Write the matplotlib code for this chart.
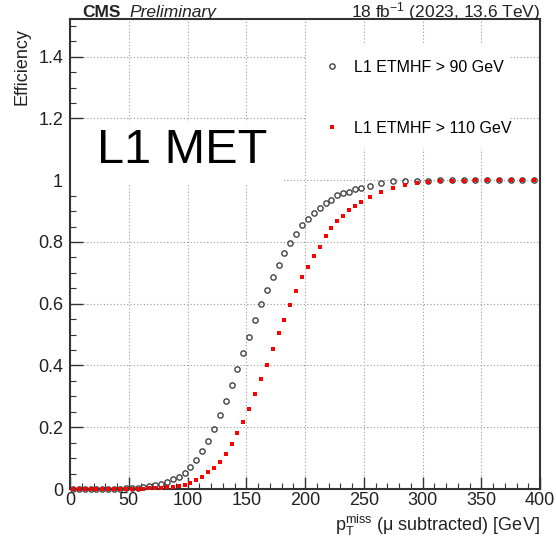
import numpy as np
import matplotlib.pyplot as plt
from matplotlib.patches import Rectangle
from matplotlib.ticker import MultipleLocator, FormatStrFormatter

plt.rcParams['font.family'] = ['Liberation Sans', 'DejaVu Sans']
plt.rcParams['mathtext.fontset'] = 'custom'
plt.rcParams['mathtext.rm'] = 'Liberation Sans'
plt.rcParams['mathtext.it'] = 'Liberation Sans:italic'
plt.rcParams['mathtext.bf'] = 'Liberation Sans:bold'

# bin centres (GeV): 5 GeV bins up to 250, then 10 GeV bins
met_bins = [2.5, 7.5, 12.5, 17.5, 22.5, 27.5, 32.5, 37.5, 42.5, 47.5,
            52.5, 57.5, 62.5, 67.5, 72.5, 77.5, 82.5, 87.5, 92.5, 97.5,
            102.5, 107.5, 112.5, 117.5, 122.5, 127.5, 132.5, 137.5, 142.5, 147.5,
            152.5, 157.5, 162.5, 167.5, 172.5, 177.5, 182.5, 187.5, 192.5, 197.5,
            202.5, 207.5, 212.5, 217.5, 222.5, 227.5, 232.5, 237.5, 242.5, 247.5,
            255, 265, 275, 285, 295, 305, 315, 325, 335, 345,
            355, 365, 375, 385, 395]

# L1 ETMHF > 90 GeV
eff_90 = [0.0, 0.0, 0.0, 0.0, 0.0, 0.0, 0.0003, 0.0005, 0.001, 0.002,
          0.003, 0.004, 0.006, 0.009, 0.012, 0.016, 0.022, 0.031, 0.040, 0.052,
          0.071, 0.094, 0.123, 0.156, 0.195, 0.240, 0.286, 0.337, 0.390, 0.442,
          0.493, 0.548, 0.598, 0.644, 0.688, 0.726, 0.763, 0.797, 0.827, 0.854,
          0.873, 0.894, 0.909, 0.926, 0.937, 0.951, 0.959, 0.962, 0.971, 0.976,
          0.981, 0.992, 0.997, 0.998, 0.999, 0.999, 1.0, 1.0, 1.0, 1.0,
          1.0, 1.0, 1.0, 1.0, 1.0]

# L1 ETMHF > 110 GeV
eff_110 = [0.0, 0.0, 0.0, 0.0, 0.0, 0.0, 0.0, 0.0, 0.0, 0.0002,
           0.0005, 0.001, 0.0015, 0.002, 0.003, 0.004, 0.005, 0.007, 0.010, 0.014,
           0.021, 0.029, 0.040, 0.054, 0.069, 0.089, 0.113, 0.145, 0.180, 0.217,
           0.258, 0.308, 0.355, 0.401, 0.453, 0.505, 0.546, 0.595, 0.641, 0.685,
           0.718, 0.755, 0.783, 0.819, 0.846, 0.868, 0.883, 0.902, 0.918, 0.931,
           0.947, 0.962, 0.975, 0.984, 0.990, 0.994, 0.996, 0.998, 0.999, 1.0,
           1.0, 1.0, 1.0, 1.0, 1.0]

W, H = 556, 546
fig = plt.figure(figsize=(W / 100, H / 100), dpi=100)
ax = fig.add_axes([70 / W, 1 - 489 / H, 470 / W, 470 / H])

ax.set_xlim(0, 400)
ax.set_ylim(0, 1.522)

ax.set_axisbelow(True)
ax.grid(True, which='major', ls=(0, (1, 2)), color='#999999', lw=0.8)

# white boxes behind the label and legend (hide the grid)
ax.add_patch(Rectangle((0, 0.99), 180, 0.2, facecolor='white', edgecolor='none', zorder=1))
ax.add_patch(Rectangle((202, 1.10), 172, 0.34, facecolor='white', edgecolor='none', zorder=1))

ax.plot(met_bins, eff_90, 'o', mfc='none', mec='#444444', ms=3.8, mew=1.0,
        label='L1 ETMHF > 90 GeV', zorder=3, clip_on=False)
ax.plot(met_bins, eff_110, 's', color='red', ms=3.4, mew=0,
        label='L1 ETMHF > 110 GeV', zorder=3, clip_on=False)

ax.text(23, 1.057, 'L1 MET', fontsize=35, ha='left', va='baseline', zorder=4)

ax.legend(loc='upper left', bbox_to_anchor=(319 / W, 1 - 60 / H),
          bbox_transform=fig.transFigure, frameon=False, fontsize=11.5,
          handlelength=1.6, handletextpad=0.6, labelspacing=2.85,
          borderpad=0, borderaxespad=0, markerscale=1.0)

ax.xaxis.set_major_locator(MultipleLocator(50))
ax.xaxis.set_minor_locator(MultipleLocator(10))
ax.yaxis.set_major_locator(MultipleLocator(0.2))
ax.yaxis.set_minor_locator(MultipleLocator(0.05))
ax.yaxis.set_major_formatter(FormatStrFormatter('%g'))

ax.tick_params(which='both', direction='in', top=False, right=False,
               colors='#333333', labelcolor='#222222', labelsize=13)
ax.tick_params(which='major', length=9, width=1.0)
ax.tick_params(axis='x', which='major', pad=2)
ax.tick_params(axis='y', which='major', pad=5)
ax.tick_params(which='minor', length=4.5, width=0.8)
for s in ax.spines.values():
    s.set_color('#333333')
    s.set_linewidth(1.5)

fig.text(22 / W, 1 - 28 / H, 'Efficiency', rotation=90, ha='center', va='top',
         fontsize=13, color='#222222')
fig.text(540 / W, 1 - 525 / H, r'p$_{\mathrm{T}}^{\mathrm{miss}}$ (μ subtracted) [GeV]',
         ha='right', va='center', fontsize=13, color='#222222')

fig.text(82 / W, 1 - 17 / H, 'CMS', fontweight='bold', fontsize=12.5, ha='left',
         va='baseline', color='#222222')
fig.text(129 / W, 1 - 17 / H, 'Preliminary', fontstyle='italic', fontsize=12.5,
         ha='left', va='baseline', color='#222222')
fig.text(540 / W, 1 - 17 / H, r'18 fb$^{-1}$ (2023, 13.6 TeV)', fontsize=12.5,
         ha='right', va='baseline', color='#222222')

fig.savefig('out.png', dpi=100)
